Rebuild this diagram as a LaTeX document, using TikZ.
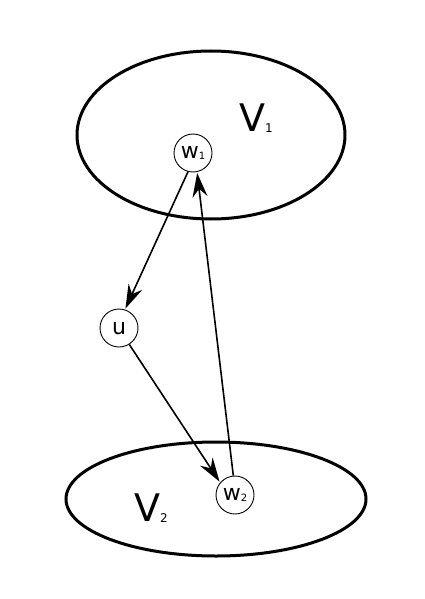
\documentclass[tikz,border=0pt]{standalone}
\usepackage{fontspec}
\setmainfont{DejaVu Sans}
\usetikzlibrary{arrows.meta,shapes.geometric}
\begin{document}
\begin{tikzpicture}[x=1pt,y=-1pt,
  setell/.style={draw,ellipse,line width=3pt,inner sep=0pt},
  vtx/.style={draw,circle,line width=0.9pt,minimum size=38pt,inner sep=0pt,font=\fontsize{22}{22}\selectfont},
  edge/.style={line width=1.6pt,-{Stealth[length=24pt,width=15pt,inset=8pt]},shorten >=1pt},
  setlab/.style={font=\fontsize{38}{38}\selectfont}
]
\useasboundingbox (0,0) rectangle (424,599);
\node[setell,minimum width=268pt,minimum height=168pt] (E1) at (211,135) {};
\node[setell,minimum width=300pt,minimum height=114pt] (E2) at (216,499) {};
\node[setlab] (V1) at (256,118) {V\raisebox{-1pt}{\fontsize{12}{12}\selectfont 1}};
\node[setlab] (V2) at (151,508) {V\raisebox{-1pt}{\fontsize{12}{12}\selectfont 2}};
\node[vtx] (w1) at (193,153) {w\raisebox{-1pt}{\fontsize{10}{10}\selectfont 1}};
\node[vtx] (u) at (119,328) {u};
\node[vtx] (w2) at (235,495) {w\raisebox{-1pt}{\fontsize{10}{10}\selectfont 2}};
\draw[edge] (w1.255) -- (u.72);
\draw[edge] (u.-58) -- (w2.140);
\draw[edge] (w2.95) -- (w1.-78);
\end{tikzpicture}
\end{document}
